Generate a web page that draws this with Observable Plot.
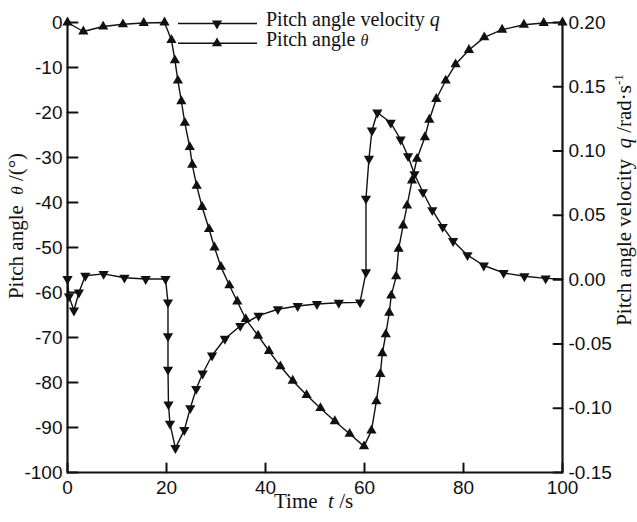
<!DOCTYPE html>
<html><head><meta charset="utf-8">
<script src="https://cdn.jsdelivr.net/npm/d3@7"></script>
<script src="https://cdn.jsdelivr.net/npm/@observablehq/plot@0.6"></script>
<style>body{margin:0;background:#fff}</style>
</head><body><div id="chart"></div>
<script>
// Pitch angle theta (deg) vs time (s)
const thetaT = [0,3.2,7.2,11.2,15.4,19.6,21.0,21.7,22.3,23.0,23.7,24.7,25.2,26.1,27.2,28.6,29.7,31.0,32.7,34.3,36.0,38.5,40.7,43.0,45.5,48.3,51.1,54.0,57.0,59.9,61.4,62.4,63.2,63.6,64.3,65.0,65.4,66.4,66.9,67.8,68.6,69.6,70.6,72.2,73.1,74.5,76.4,78.4,81.1,84.2,87.8,92.2,96.2,100];
const thetaV = [0,-2.0,-0.9,-0.4,-0.1,0,-3.9,-8.4,-12.9,-17.5,-22.3,-27.7,-31.6,-36.3,-41,-45.9,-50,-54.3,-58.4,-62,-65.9,-69.6,-73,-76.4,-79.6,-82.8,-85.7,-88.6,-91.4,-94.2,-90.7,-84.2,-78.1,-73.5,-69.3,-64.5,-60.7,-56.4,-50.3,-45.1,-40.7,-35.1,-30.3,-25.5,-21.6,-17,-12.9,-9.3,-6.1,-3.3,-1.6,-0.5,-0.1,0];
// Pitch angle velocity q (rad/s) vs time (s)
const qT = [0,0.3,1.3,2.3,3.6,7.3,11.5,15.8,19.8,20.3,20.3,20.3,20.4,20.7,21.8,23.6,24.8,26.0,27.3,29.2,31.8,34.9,38.6,42.5,46.5,50.4,54.8,59.1,60.3,60.3,60.9,61.5,62.6,65.3,67.3,68.8,70.1,71.8,73.7,75.8,77.9,80.8,84.1,88.1,92.3,96.6,100];
const qV = [0.0005,-0.013,-0.024,-0.010,0.003,0.0045,0.0015,0.0005,0.0005,-0.0177,-0.044,-0.070,-0.097,-0.112,-0.131,-0.117,-0.100,-0.085,-0.073,-0.059,-0.046,-0.036,-0.028,-0.023,-0.0205,-0.019,-0.018,-0.0177,0.0057,0.063,0.094,0.116,0.130,0.122,0.109,0.096,0.082,0.068,0.054,0.041,0.030,0.019,0.011,0.0052,0.0026,0.001,0.0005];

const xTicks = [0,20,40,60,80,100];
const thetaTicks = [0,-10,-20,-30,-40,-50,-60,-70,-80,-90,-100];
const qTicks = [0.20,0.15,0.10,0.05,0.00,-0.05,-0.10,-0.15];
const qMin = -0.15, qMax = 0.20, thMin = -100, thMax = 0;

const toTheta = v => (v - qMin) / (qMax - qMin) * (thMax - thMin) + thMin;
const theta = thetaT.map((t, i) => ({t, v: thetaV[i]}));
const q = qT.map((t, i) => ({t, v: toTheta(qV[i]), marker: i < qT.length - 1}));
const qLabel = new Map(qTicks.map(d => [toTheta(d), d.toFixed(2)]));

const tickShape = {draw(ctx, l) { ctx.moveTo(0, 0); ctx.lineTo(0, -l); }};
const R = 3.8;

const chart = Plot.plot({
  width: 637, height: 522,
  marginLeft: 67, marginRight: 75, marginTop: 22, marginBottom: 50,
  style: {fontFamily: "'Liberation Sans', Arial, sans-serif", fontSize: "19px", background: "#fff", overflow: "visible"},
  x: {domain: [0, 100]},
  y: {domain: [thMin, thMax]},
  marks: [
    Plot.axisX(xTicks, {anchor: "bottom", tickSize: 0, tickPadding: 8, tickFormat: d => String(d), label: null, fill: "#111"}),
    Plot.axisY(thetaTicks, {anchor: "left", tickSize: 0, tickPadding: 5, tickFormat: d => String(d), label: null, fill: "#111"}),
    Plot.axisY(qTicks.map(toTheta), {anchor: "right", tickSize: 0, tickPadding: 6, tickFormat: d => qLabel.get(d), label: null, fill: "#111"}),
    Plot.vector(thetaTicks, {x: 0, y: d => d, rotate: 90, length: 10, anchor: "start", shape: tickShape, stroke: "#111", strokeWidth: 2}),
    Plot.vector(qTicks, {x: 100, y: d => toTheta(d), rotate: -90, length: 9, anchor: "start", shape: tickShape, stroke: "#111", strokeWidth: 2}),
    Plot.vector(xTicks, {x: d => d, y: thMin, rotate: 0, length: 9, anchor: "start", shape: tickShape, stroke: "#111", strokeWidth: 2}),
    Plot.ruleX([0, 100], {stroke: "#111", strokeWidth: 2.2}),
    Plot.ruleY([thMin], {stroke: "#111", strokeWidth: 2.2}),
    Plot.line(theta, {x: "t", y: "v", stroke: "#111", strokeWidth: 1.4}),
    Plot.line(q, {x: "t", y: "v", stroke: "#111", strokeWidth: 1.4}),
    Plot.dot(theta, {x: "t", y: "v", symbol: "triangle", r: R, fill: "#111", stroke: "none"}),
    Plot.dot(q, {filter: d => d.marker, x: "t", y: "v", symbol: "triangle", rotate: 180, r: R, fill: "#111", stroke: "none"})
  ]
});
document.getElementById("chart").appendChild(chart);

// legend and axis titles
const svg = d3.select(chart);
const serif = "'Liberation Serif', 'Times New Roman', serif";
const tri = d3.symbol(d3.symbolTriangle, Math.PI * R * R)();
const leg = svg.append("g").attr("fill", "#111");
[[23.5, 180, "Pitch angle velocity ", "q", 1], [43.3, 0, "Pitch angle ", "θ", 0.8]].forEach(([y, rot, txt, it, sc]) => {
  leg.append("line").attr("x1", 178).attr("x2", 257).attr("y1", y).attr("y2", y).attr("stroke", "#111").attr("stroke-width", 1.4);
  leg.append("path").attr("d", tri).attr("transform", `translate(217,${y}) rotate(${rot})`);
  const t = leg.append("text").attr("x", 266).attr("y", y + 2.6).attr("text-anchor", "start")
    .attr("font-family", serif).attr("font-size", 20).text(txt);
  t.append("tspan").attr("font-style", "italic").attr("font-size", 20 * sc).text(it);
});

const lt = svg.append("text").attr("transform", "translate(23,226) rotate(-90)").attr("text-anchor", "middle")
  .attr("font-family", serif).attr("font-size", 21).attr("fill", "#111").text("Pitch angle\u00a0\u00a0");
lt.append("tspan").attr("font-style", "italic").attr("font-size", 17).text("θ");
lt.append("tspan").text("\u00a0/(°)");

const bt = svg.append("text").attr("x", 274).attr("y", 508).attr("text-anchor", "start")
  .attr("font-family", serif).attr("font-size", 21).attr("fill", "#111").text("Time\u00a0\u00a0");
bt.append("tspan").attr("font-style", "italic").text("t");
bt.append("tspan").text("\u00a0/s");

const rt = svg.append("text").attr("transform", "translate(631,200) rotate(-90)").attr("text-anchor", "middle")
  .attr("font-family", serif).attr("font-size", 21).attr("fill", "#111").text("Pitch angle velocity\u00a0\u00a0");
rt.append("tspan").attr("font-style", "italic").text("q");
rt.append("tspan").text("\u00a0/rad·s");
rt.append("tspan").attr("font-size", 13).attr("dy", -8).text("-1");
</script>
</body></html>
